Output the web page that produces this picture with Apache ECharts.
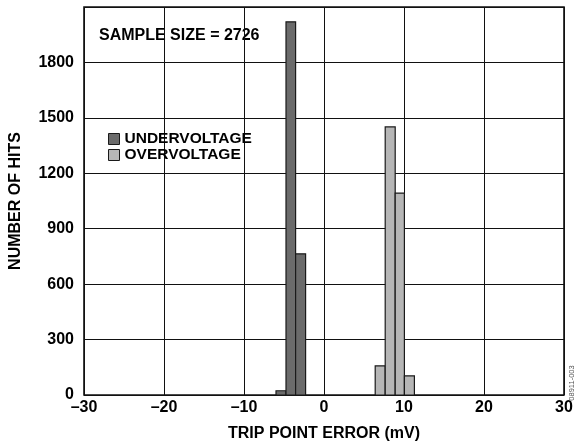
<!DOCTYPE html>
<html>
<head>
<meta charset="utf-8">
<script src="https://cdn.jsdelivr.net/npm/echarts@6/dist/echarts.min.js"></script>
<style>html,body{margin:0;padding:0;background:#fff}#c{width:577px;height:447px}</style>
</head>
<body>
<div id="c"></div>
<script>
// Data (bin edges in mV, counts)
const underEdges = [-6.0, -4.75, -3.55, -2.3];
const underCounts = [23, 2020, 764];
const overEdges = [6.4, 7.65, 8.9, 10.05, 11.3];
const overCounts = [158, 1451, 1093, 104];
const xTicks = [-30, -20, -10, 0, 10, 20, 30];
const yTicks = [0, 300, 600, 900, 1200, 1500, 1800, 2100];
const sampleText = 'SAMPLE SIZE = 2726';
const seriesNames = ['UNDERVOLTAGE', 'OVERVOLTAGE'];

function bins(edges, counts) {
  return counts.map((c, i) => [edges[i], edges[i + 1], c]);
}

const FONT = '"Liberation Sans", Arial, Helvetica, sans-serif';
const darkColor = '#6b6b6b';
const lightColor = '#b6b6b6';
const edgeColor = '#1a1a1a';

function renderBin(color) {
  return function (params, api) {
    const p0 = api.coord([api.value(0), api.value(2)]);
    const p1 = api.coord([api.value(1), 0]);
    return {
      type: 'rect',
      shape: { x: p0[0], y: p0[1], width: p1[0] - p0[0], height: p1[1] - p0[1] },
      style: { fill: color, stroke: edgeColor, lineWidth: 1.2 }
    };
  };
}

const chart = echarts.init(document.getElementById('c'), null, { renderer: 'canvas' });
chart.setOption({
  animation: false,
  backgroundColor: '#fff',
  grid: { left: 82, right: 13, top: 7, bottom: 51, show: true, borderColor: '#111', borderWidth: 1.6, backgroundColor: 'transparent' },
  xAxis: {
    type: 'value', min: xTicks[0], max: xTicks[xTicks.length - 1], interval: 10,
    axisLine: { show: false }, axisTick: { show: false },
    splitLine: { show: true, lineStyle: { color: '#111', width: 1 } },
    axisLabel: { margin: 5, color: '#000', fontFamily: FONT, fontWeight: 'bold', fontSize: 16,
      formatter: v => (v < 0 ? '\u2013' + Math.abs(v) : String(v)) },
    name: 'TRIP POINT ERROR (mV)', nameLocation: 'middle', nameGap: 31,
    nameTextStyle: { color: '#000', fontFamily: FONT, fontWeight: 'bold', fontSize: 16 }
  },
  yAxis: {
    type: 'value', min: yTicks[0], max: yTicks[yTicks.length - 1], interval: 300,
    axisLine: { show: false }, axisTick: { show: false },
    splitLine: { show: true, lineStyle: { color: '#111', width: 1 } },
    axisLabel: { margin: 10, color: '#000', fontFamily: FONT, fontWeight: 'bold', fontSize: 16,
      formatter: v => (v === yTicks[yTicks.length - 1] ? '' : String(v)) },
    name: 'NUMBER OF HITS', nameLocation: 'middle', nameGap: 60, nameRotate: 90,
    nameTextStyle: { color: '#000', fontFamily: FONT, fontWeight: 'bold', fontSize: 16 }
  },
  legend: {
    orient: 'vertical', left: 108, top: 131, itemGap: 0, itemWidth: 11, itemHeight: 11,
    textStyle: { color: '#000', fontFamily: FONT, fontWeight: 'bold', fontSize: 15.5, lineHeight: 15 },
    padding: 0,
    data: [
      { name: seriesNames[0], icon: 'rect', itemStyle: { color: darkColor, borderColor: edgeColor, borderWidth: 1 } },
      { name: seriesNames[1], icon: 'rect', itemStyle: { color: lightColor, borderColor: edgeColor, borderWidth: 1 } }
    ]
  },
  graphic: [
    { type: 'text', left: 99, top: 28, style: { text: sampleText, fill: '#000', font: 'bold 16px ' + FONT } },
    { type: 'text', x: 576, y: 383, rotation: Math.PI / 2,
      style: { text: '08911-003', fill: '#555', font: '7.5px ' + FONT, align: 'center', verticalAlign: 'bottom' } }
  ],
  series: [
    { name: seriesNames[0], type: 'custom', renderItem: renderBin(darkColor), itemStyle: { color: darkColor },
      encode: { x: [0, 1], y: 2 }, data: bins(underEdges, underCounts) },
    { name: seriesNames[1], type: 'custom', renderItem: renderBin(lightColor), itemStyle: { color: lightColor },
      encode: { x: [0, 1], y: 2 }, data: bins(overEdges, overCounts) }
  ]
});
</script>
</body>
</html>
